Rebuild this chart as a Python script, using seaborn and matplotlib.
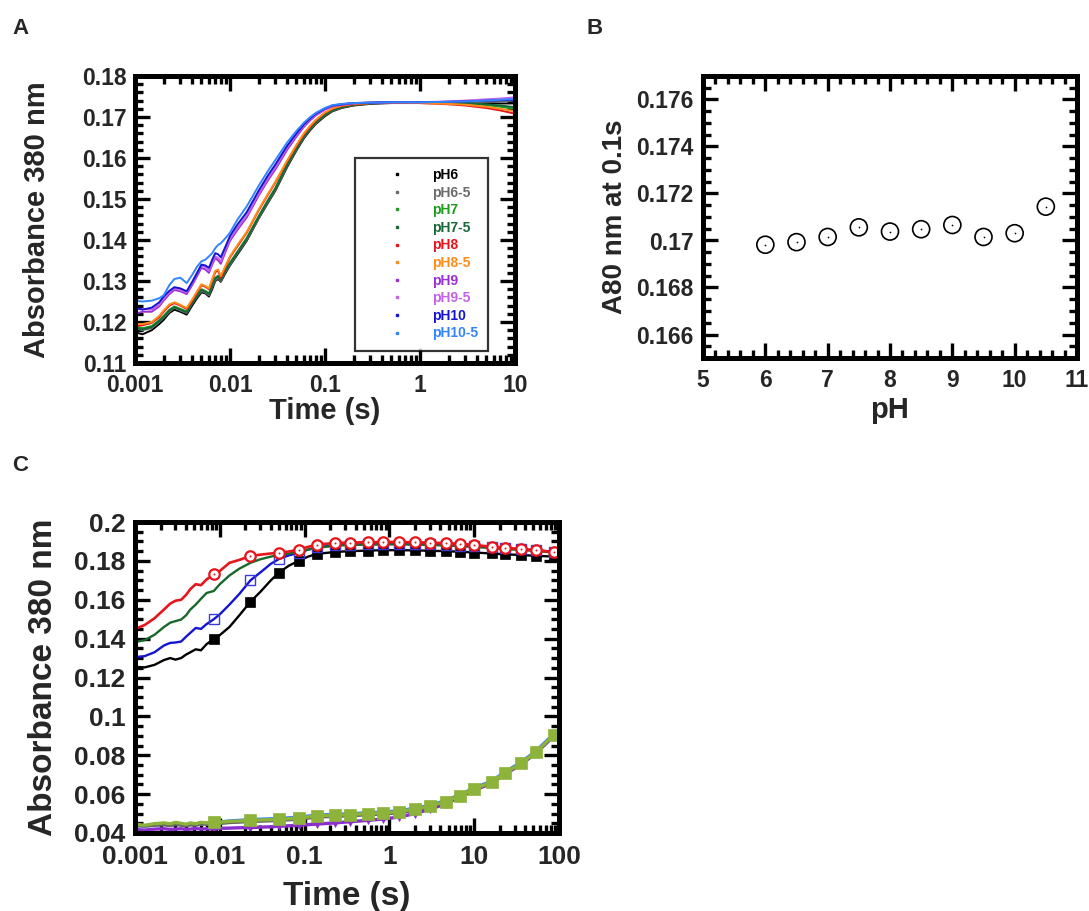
import numpy as np
import pandas as pd
import matplotlib
matplotlib.use("Agg")
import matplotlib.pyplot as plt
import seaborn as sns
from matplotlib.ticker import MultipleLocator, LogLocator, FuncFormatter, NullFormatter
from matplotlib.lines import Line2D

# ---------------- Panel A data ----------------
tA = [0.001, 0.0012, 0.0015, 0.0018, 0.002, 0.0023, 0.0026, 0.003, 0.0035, 0.004,
      0.0045, 0.005, 0.0055, 0.006, 0.0065, 0.007, 0.0075, 0.008, 0.009, 0.01,
      0.012, 0.015, 0.02, 0.025, 0.03, 0.04, 0.05, 0.06, 0.07, 0.08,
      0.1, 0.12, 0.15, 0.2, 0.3, 0.5, 1, 2, 3, 5, 7, 10]

pH6 = [0.1175, 0.1170, 0.1180, 0.1195, 0.1205, 0.1222, 0.1230, 0.1225, 0.1218, 0.1240,
       0.1258, 0.1272, 0.1270, 0.1262, 0.1280, 0.1300, 0.1305, 0.1298, 0.1320, 0.1338,
       0.1365, 0.1398, 0.1452, 0.1490, 0.1520, 0.1578, 0.1618, 0.1648, 0.1668, 0.1683,
       0.1702, 0.1714, 0.1722, 0.1728, 0.1732, 0.1734, 0.1734, 0.1734, 0.1734, 0.1734, 0.1733, 0.1733]
pH6_5 = [0.1185, 0.1180, 0.1185, 0.1200, 0.1210, 0.1225, 0.1235, 0.1228, 0.1222, 0.1245,
         0.1262, 0.1275, 0.1272, 0.1265, 0.1285, 0.1302, 0.1308, 0.1300, 0.1323, 0.1340,
         0.1368, 0.1400, 0.1453, 0.1492, 0.1522, 0.1580, 0.1620, 0.1650, 0.1670, 0.1685,
         0.1704, 0.1715, 0.1723, 0.1729, 0.1733, 0.1735, 0.1735, 0.1735, 0.1736, 0.1737, 0.1738, 0.1740]
pH7 = [0.1190, 0.1185, 0.1190, 0.1205, 0.1215, 0.1230, 0.1238, 0.1232, 0.1226, 0.1248,
       0.1265, 0.1280, 0.1276, 0.1270, 0.1290, 0.1308, 0.1313, 0.1305, 0.1328, 0.1345,
       0.1372, 0.1405, 0.1458, 0.1497, 0.1527, 0.1585, 0.1624, 0.1654, 0.1673, 0.1688,
       0.1706, 0.1717, 0.1725, 0.1730, 0.1734, 0.1736, 0.1736, 0.1735, 0.1733, 0.1729, 0.1725, 0.1720]
pH7_5 = [0.1185, 0.1182, 0.1188, 0.1202, 0.1212, 0.1228, 0.1236, 0.1230, 0.1224, 0.1246,
         0.1263, 0.1278, 0.1274, 0.1268, 0.1288, 0.1306, 0.1311, 0.1303, 0.1326, 0.1343,
         0.1370, 0.1403, 0.1456, 0.1495, 0.1525, 0.1583, 0.1622, 0.1652, 0.1672, 0.1687,
         0.1705, 0.1716, 0.1724, 0.1730, 0.1734, 0.1736, 0.1736, 0.1735, 0.1734, 0.1731, 0.1728, 0.1724]
pH8 = [0.1190, 0.1192, 0.1198, 0.1212, 0.1225, 0.1240, 0.1246, 0.1240, 0.1232, 0.1252,
       0.1272, 0.1290, 0.1286, 0.1280, 0.1302, 0.1322, 0.1325, 0.1308, 0.1335, 0.1358,
       0.1385, 0.1418, 0.1472, 0.1510, 0.1540, 0.1592, 0.1630, 0.1658, 0.1677, 0.1692,
       0.1710, 0.1720, 0.1727, 0.1731, 0.1734, 0.1735, 0.1734, 0.1731, 0.1728, 0.1722, 0.1716, 0.1708]
pH8_5 = [0.1195, 0.1195, 0.1200, 0.1215, 0.1228, 0.1243, 0.1248, 0.1242, 0.1234, 0.1255,
         0.1275, 0.1292, 0.1288, 0.1282, 0.1305, 0.1325, 0.1328, 0.1312, 0.1338, 0.1360,
         0.1388, 0.1420, 0.1474, 0.1512, 0.1542, 0.1594, 0.1632, 0.1660, 0.1679, 0.1693,
         0.1711, 0.1721, 0.1728, 0.1732, 0.1734, 0.1735, 0.1734, 0.1732, 0.1730, 0.1725, 0.1720, 0.1714]
pH9 = [0.1220, 0.1225, 0.1225, 0.1238, 0.1252, 0.1268, 0.1278, 0.1275, 0.1268, 0.1290,
       0.1312, 0.1332, 0.1328, 0.1320, 0.1340, 0.1356, 0.1350, 0.1342, 0.1372, 0.1398,
       0.1425, 0.1455, 0.1508, 0.1545, 0.1572, 0.1620, 0.1652, 0.1676, 0.1692, 0.1704,
       0.1718, 0.1726, 0.1730, 0.1733, 0.1735, 0.1736, 0.1736, 0.1737, 0.1739, 0.1741, 0.1743, 0.1745]
pH9_5 = [0.1230, 0.1232, 0.1230, 0.1242, 0.1256, 0.1272, 0.1282, 0.1278, 0.1272, 0.1295,
         0.1318, 0.1338, 0.1333, 0.1325, 0.1345, 0.1360, 0.1356, 0.1348, 0.1378, 0.1402,
         0.1430, 0.1460, 0.1512, 0.1550, 0.1577, 0.1625, 0.1656, 0.1679, 0.1695, 0.1706,
         0.1720, 0.1727, 0.1731, 0.1734, 0.1735, 0.1736, 0.1736, 0.1738, 0.1740, 0.1743, 0.1745, 0.1748]
pH10 = [0.1235, 0.1230, 0.1235, 0.1248, 0.1262, 0.1276, 0.1285, 0.1282, 0.1275, 0.1298,
        0.1320, 0.1340, 0.1338, 0.1332, 0.1352, 0.1368, 0.1365, 0.1358, 0.1385, 0.1410,
        0.1438, 0.1468, 0.1520, 0.1557, 0.1584, 0.1630, 0.1660, 0.1682, 0.1697, 0.1708,
        0.1721, 0.1728, 0.1731, 0.1734, 0.1735, 0.1736, 0.1736, 0.1737, 0.1738, 0.1740, 0.1741, 0.1742]
pH10_5 = [0.1252, 0.1250, 0.1252, 0.1258, 0.1265, 0.1290, 0.1305, 0.1308, 0.1295, 0.1315,
          0.1335, 0.1348, 0.1352, 0.1360, 0.1368, 0.1380, 0.1388, 0.1392, 0.1405, 0.1418,
          0.1450, 0.1482, 0.1532, 0.1568, 0.1595, 0.1638, 0.1666, 0.1686, 0.1700, 0.1710,
          0.1722, 0.1729, 0.1732, 0.1734, 0.1735, 0.1736, 0.1736, 0.1737, 0.1738, 0.1740, 0.1742, 0.1744]

labelsA = ["pH6", "pH6-5", "pH7", "pH7-5", "pH8", "pH8-5", "pH9", "pH9-5", "pH10", "pH10-5"]
colorsA = ["#000000", "#6b6b6b", "#1f9a1f", "#17693a", "#e8141c", "#ff8c1a",
           "#9b2fd6", "#c462e6", "#1414d2", "#3385ff"]
seriesA = [pH6, pH6_5, pH7, pH7_5, pH8, pH8_5, pH9, pH9_5, pH10, pH10_5]

# ---------------- Panel B data ----------------
pH_B = [6, 6.5, 7, 7.5, 8, 8.5, 9, 9.5, 10, 10.5]
A80_B = [0.16982, 0.16993, 0.17015, 0.17056, 0.17038, 0.17048, 0.17066, 0.17015, 0.17031, 0.17144]

# ---------------- Panel C data ----------------
tC = [0.001, 0.0013, 0.0017, 0.0022, 0.0026, 0.003, 0.0035, 0.004, 0.0045, 0.0052,
      0.006, 0.007, 0.0085, 0.01, 0.013, 0.017, 0.023, 0.03, 0.04, 0.05,
      0.065, 0.085, 0.11, 0.14, 0.23, 0.34, 0.56, 0.85, 1.3, 2,
      3, 4.6, 6.8, 10, 16, 23, 36, 53, 87, 95]
markC = [12, 16, 19, 21, 23, 24, 25, 26, 27, 28, 29, 30, 31, 32, 33, 34, 35, 36, 37, 38]

C_red = [0.1450, 0.1470, 0.1505, 0.1550, 0.1580, 0.1595, 0.1600, 0.1625, 0.1655, 0.1680,
         0.1675, 0.1705, 0.1730, 0.1748, 0.1790, 0.1805, 0.1825, 0.1832, 0.1838, 0.1843,
         0.1848, 0.1858, 0.1872, 0.1884, 0.1892, 0.1894, 0.1896, 0.1897, 0.1897, 0.1896,
         0.1894, 0.1891, 0.1888, 0.1882, 0.1873, 0.1867, 0.1861, 0.1855, 0.1845, 0.1843]
C_green = [0.1382, 0.1392, 0.1420, 0.1460, 0.1482, 0.1490, 0.1498, 0.1520, 0.1550, 0.1575,
           0.1605, 0.1635, 0.1645, 0.1680, 0.1725, 0.1760, 0.1790, 0.1808, 0.1822, 0.1830,
           0.1838, 0.1845, 0.1858, 0.1868, 0.1878, 0.1882, 0.1884, 0.1885, 0.1885, 0.1884,
           0.1882, 0.1879, 0.1876, 0.1872, 0.1866, 0.1861, 0.1856, 0.1851, 0.1843, 0.1841]
C_blue = [0.1305, 0.1310, 0.1330, 0.1365, 0.1378, 0.1380, 0.1385, 0.1410, 0.1430, 0.1455,
          0.1450, 0.1475, 0.1500, 0.1525, 0.1575, 0.1630, 0.1700, 0.1740, 0.1785, 0.1810,
          0.1828, 0.1842, 0.1858, 0.1870, 0.1880, 0.1884, 0.1886, 0.1887, 0.1887, 0.1886,
          0.1885, 0.1882, 0.1879, 0.1875, 0.1869, 0.1864, 0.1859, 0.1854, 0.1848, 0.1846]
C_black = [0.1255, 0.1252, 0.1265, 0.1290, 0.1300, 0.1292, 0.1300, 0.1318, 0.1330, 0.1345,
           0.1340, 0.1372, 0.1398, 0.1418, 0.1460, 0.1520, 0.1590, 0.1640, 0.1700, 0.1740,
           0.1775, 0.1800, 0.1822, 0.1836, 0.1846, 0.1850, 0.1853, 0.1855, 0.1855, 0.1854,
           0.1852, 0.1850, 0.1847, 0.1843, 0.1838, 0.1834, 0.1830, 0.1826, 0.1822, 0.1820]
C_ltblue = [0.0440, 0.0435, 0.0442, 0.0446, 0.0440, 0.0448, 0.0445, 0.0440, 0.0447, 0.0444,
            0.0452, 0.0450, 0.0455, 0.0456, 0.0462, 0.0465, 0.0469, 0.0471, 0.0473, 0.0475,
            0.0478, 0.0482, 0.0487, 0.0492, 0.0496, 0.0499, 0.0504, 0.0508, 0.0514, 0.0528,
            0.0542, 0.0567, 0.0597, 0.0631, 0.0667, 0.0713, 0.0765, 0.0820, 0.0910, 0.0925]
C_gray = [0.0438, 0.0436, 0.0440, 0.0442, 0.0438, 0.0444, 0.0440, 0.0437, 0.0442, 0.0440,
          0.0446, 0.0445, 0.0450, 0.0449, 0.0454, 0.0456, 0.0460, 0.0461, 0.0463, 0.0465,
          0.0468, 0.0472, 0.0477, 0.0482, 0.0486, 0.0489, 0.0494, 0.0498, 0.0504, 0.0518,
          0.0532, 0.0556, 0.0586, 0.0620, 0.0656, 0.0702, 0.0754, 0.0809, 0.0898, 0.0911]
C_purple = [0.0418, 0.0415, 0.0420, 0.0422, 0.0418, 0.0420, 0.0422, 0.0418, 0.0420, 0.0423,
            0.0420, 0.0422, 0.0420, 0.0424, 0.0425, 0.0427, 0.0428, 0.0430, 0.0432, 0.0435,
            0.0437, 0.0440, 0.0443, 0.0446, 0.0452, 0.0458, 0.0465, 0.0472, 0.0482, 0.0500,
            0.0522, 0.0550, 0.0585, 0.0620, 0.0658, 0.0705, 0.0757, 0.0812, 0.0902, 0.0915]
C_yg = [0.0445, 0.0440, 0.0448, 0.0452, 0.0447, 0.0455, 0.0450, 0.0445, 0.0452, 0.0448,
        0.0455, 0.0452, 0.0458, 0.0455, 0.0460, 0.0462, 0.0466, 0.0467, 0.0469, 0.0471,
        0.0474, 0.0478, 0.0483, 0.0488, 0.0492, 0.0495, 0.0500, 0.0504, 0.0510, 0.0524,
        0.0538, 0.0562, 0.0592, 0.0626, 0.0662, 0.0708, 0.0760, 0.0815, 0.0905, 0.0918]

# ---------------- Styling ----------------
sns.set_style("white")
plt.rcParams['font.family'] = ['Liberation Sans', 'DejaVu Sans']
plt.rcParams['font.weight'] = 'bold'
plt.rcParams['axes.labelweight'] = 'bold'

W, H = 1089, 911
fig = plt.figure(figsize=(W / 100, H / 100), dpi=100)
axA = fig.add_axes([135 / W, 1 - 363 / H, 380 / W, 287 / H])
axB = fig.add_axes([703 / W, 1 - 358 / H, 374 / W, 282 / H])
axC = fig.add_axes([135 / W, 1 - 833 / H, 424 / W, 311 / H])

fmt = FuncFormatter(lambda v, p: f"{v:g}")


def style(ax, fs, pad=6, xpad=None):
    for s in ax.spines.values():
        s.set_visible(True)
        s.set_linewidth(3.6)
        s.set_color("black")
    ax.tick_params(which="both", direction="in", top=True, right=True, bottom=True,
                   left=True, width=2.4, color="black", labelsize=fs, pad=pad)
    if xpad is not None:
        ax.tick_params(axis="x", which="both", pad=xpad)
    ax.tick_params(which="major", length=10.5)
    ax.tick_params(which="minor", length=6)
    ax.xaxis.set_major_formatter(fmt)
    ax.yaxis.set_major_formatter(fmt)


def logx(ax, lo, hi):
    ax.set_xscale("log")
    ax.set_xlim(lo, hi)
    ax.xaxis.set_major_locator(LogLocator(base=10, numticks=20))
    ax.xaxis.set_minor_locator(LogLocator(base=10, subs=np.arange(2, 10), numticks=20))
    ax.xaxis.set_minor_formatter(NullFormatter())


# ---------------- Panel A ----------------
for vals, col in zip(seriesA, colorsA):
    sns.lineplot(x=tA, y=vals, ax=axA, color=col, linewidth=1.4, estimator=None,
                 sort=False, legend=False)
logx(axA, 0.001, 10)
axA.set_ylim(0.11, 0.18)
axA.yaxis.set_major_locator(MultipleLocator(0.01))
axA.yaxis.set_minor_locator(MultipleLocator(0.002))
style(axA, 16.5, pad=6, xpad=8)
axA.set_xlabel("Time (s)", fontsize=21, labelpad=0)
axA.set_ylabel("Absorbance 380 nm", fontsize=21, labelpad=22)

handles = [Line2D([], [], linestyle="none", marker="s", markersize=2, color=c) for c in colorsA]
leg = axA.legend(handles, labelsA, loc="upper left", bbox_to_anchor=(0.578, 0.716),
                 fontsize=10, labelcolor=colorsA, frameon=True, fancybox=False,
                 borderpad=0.75, handlelength=4.6, handletextpad=0.2, labelspacing=0.26,
                 borderaxespad=0)
leg.get_frame().set_edgecolor("black")
leg.get_frame().set_linewidth(1.6)
for t in leg.get_texts():
    t.set_fontweight("bold")

# ---------------- Panel B ----------------
sns.scatterplot(x=pH_B, y=A80_B, ax=axB, marker="o", s=150, facecolor="none",
                edgecolor="black", linewidth=1.2, legend=False, zorder=3)
sns.scatterplot(x=pH_B, y=A80_B, ax=axB, marker="o", s=1.5, color="black",
                linewidth=0, legend=False, zorder=4)
axB.set_xlim(5, 11)
axB.set_ylim(0.165, 0.177)
axB.xaxis.set_major_locator(MultipleLocator(1))
axB.xaxis.set_minor_locator(MultipleLocator(0.2))
axB.yaxis.set_major_locator(MultipleLocator(0.002))
axB.yaxis.set_minor_locator(MultipleLocator(0.0005))
style(axB, 16.5, pad=7, xpad=8)
axB.set_xlabel("pH", fontsize=21, labelpad=3)
axB.set_ylabel("A80 nm at 0.1s", fontsize=20, labelpad=6)

# ---------------- Panel C ----------------
lower = [(C_ltblue, "#2f7fff", None), (C_gray, "#666666", None),
         (C_purple, "#8a2fcc", "v"), (C_yg, "#8db33a", "s")]
for vals, col, mk in lower:
    kw = dict(color=col, linewidth=2.4, estimator=None, sort=False, legend=False)
    if mk == "v":
        kw.update(marker="v", markevery=markC, markersize=6, markerfacecolor=col,
                  markeredgecolor=col, markeredgewidth=0.5)
    elif mk == "s":
        kw.update(marker="s", markevery=markC, markersize=8.5, markerfacecolor=col,
                  markeredgecolor=col, markeredgewidth=0.5)
    sns.lineplot(x=tC, y=vals, ax=axC, **kw)

sns.lineplot(x=tC, y=C_black, ax=axC, color="black", linewidth=1.7, estimator=None,
             sort=False, legend=False, marker="s", markevery=markC, markersize=7,
             markerfacecolor="black", markeredgecolor="black", markeredgewidth=0.5)
sns.lineplot(x=tC, y=C_blue, ax=axC, color="#1414d2", linewidth=1.7, estimator=None,
             sort=False, legend=False, marker="s", markevery=markC, markersize=6.5,
             markerfacecolor="none", markeredgecolor="#3b3bd8", markeredgewidth=1.0)
sns.lineplot(x=tC, y=C_green, ax=axC, color="#17692a", linewidth=1.7, estimator=None,
             sort=False, legend=False)
sns.lineplot(x=tC, y=C_red, ax=axC, color="#e8141c", linewidth=1.9, estimator=None,
             sort=False, legend=False, marker="o", markevery=markC, markersize=7.5,
             markerfacecolor="white", markeredgecolor="#e8141c", markeredgewidth=1.6)
sns.scatterplot(x=[tC[i] for i in markC], y=[C_red[i] for i in markC], ax=axC,
                s=2, color="#e8141c", linewidth=0, legend=False, zorder=5)

logx(axC, 0.001, 100)
axC.set_ylim(0.04, 0.2)
axC.yaxis.set_major_locator(MultipleLocator(0.02))
axC.yaxis.set_minor_locator(MultipleLocator(0.005))
style(axC, 19, pad=7, xpad=9)
axC.set_xlabel("Time (s)", fontsize=24, labelpad=8)
axC.set_ylabel("Absorbance 380 nm", fontsize=24, labelpad=11)

# ---------------- Panel letters ----------------
fig.text(12 / W, 1 - 18 / H, "A", fontsize=16, fontweight="bold", va="top", ha="left")
fig.text(586 / W, 1 - 18 / H, "B", fontsize=16, fontweight="bold", va="top", ha="left")
fig.text(12 / W, 1 - 455 / H, "C", fontsize=16, fontweight="bold", va="top", ha="left")

fig.savefig("out.png", dpi=100)
